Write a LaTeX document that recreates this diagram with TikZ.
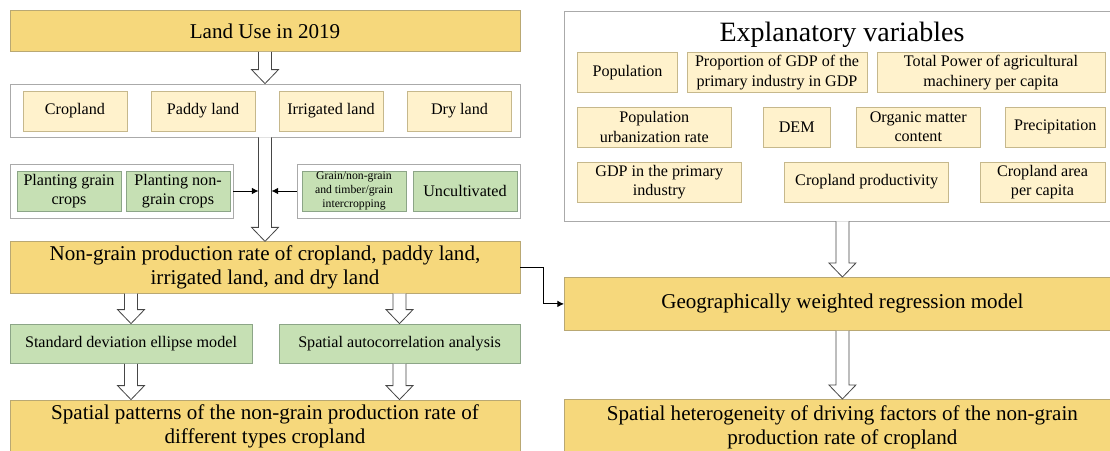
\documentclass[tikz,border=0pt]{standalone}
\usepackage{fontspec}
\setmainfont{Liberation Serif}
\usetikzlibrary{calc,arrows.meta}
\definecolor{gold}{RGB}{246,216,124}
\definecolor{goldline}{RGB}{185,168,115}
\definecolor{lyel}{RGB}{255,242,204}
\definecolor{lyelline}{RGB}{198,184,140}
\definecolor{lgreen}{RGB}{198,224,180}
\definecolor{lgreenline}{RGB}{140,165,135}
\definecolor{framec}{RGB}{170,170,170}
\definecolor{arrowline}{RGB}{70,70,70}
\tikzset{
 wh/.style 2 args={minimum width=#1*0.75pt, minimum height=#2*0.75pt},
 base/.style={draw, line width=0.6pt, inner sep=0pt, align=center, text=black},
 goldbox/.style={base, fill=gold, draw=goldline},
 ybox/.style={base, fill=lyel, draw=lyelline},
 gbox/.style={base, fill=lgreen, draw=lgreenline},
 container/.style={base, fill=white, draw=framec},
 fbig/.style={font=\fontsize{15.8}{17.6}\selectfont},
 fsmall/.style={font=\fontsize{12.1}{14.6}\selectfont},
 ftiny/.style={font=\fontsize{8.8}{10.5}\selectfont},
 ftitle/.style={font=\fontsize{21}{24}\selectfont},
 hollow/.style={draw=arrowline, fill=white, line width=0.6pt, line join=miter},
 link/.style={draw=black, line width=0.7pt, -{Latex[length=5pt,width=5pt]}},
}
\newcommand\hollowarrow[2]{%
 \path[hollow] let \p1=#1, \p2=#2 in
 (\x1-4.875pt,\y1) -- (\x1-4.875pt,\y2+10.5pt) -- (\x1-10.125pt,\y2+10.5pt) --
 (\x1,\y2) -- (\x1+10.125pt,\y2+10.5pt) -- (\x1+4.875pt,\y2+10.5pt) -- (\x1+4.875pt,\y1);}
\begin{document}
\begin{tikzpicture}[x=0.75pt,y=-0.75pt]
\useasboundingbox (0,0) rectangle (1110,450);
\clip (0,0) rectangle (1110,450);

% ---------- left column ----------
\node[goldbox,fbig,wh={510}{41}] (land) at (265,31) {Land Use in 2019};

\node[container,wh={510}{53}] (four) at (265,110.5) {};
\node[ybox,fsmall,wh={104}{40}] (crop) at (75,111) {Cropland};
\node[ybox,fsmall,wh={104}{40}] (paddy) at (203,111) {Paddy land};
\node[ybox,fsmall,wh={104}{40}] (irr) at (331,111) {Irrigated land};
\node[ybox,fsmall,wh={104}{40}] (dry) at (459.5,111) {Dry land};

\node[container,wh={223}{54}] (lgroup) at (121.5,191) {};
\node[gbox,fsmall,wh={104}{40}] (pg) at (69,191) {Planting grain\\crops};
\node[gbox,fsmall,wh={104}{40}] (png) at (178,191) {Planting non-\\grain crops};

\node[container,wh={223}{54}] (rgroup) at (408.5,191) {};
\node[gbox,ftiny,wh={104}{40}] (inter) at (354,191) {Grain/non-grain\\and timber/grain\\intercropping};
\node[gbox,fsmall,wh={104}{40}] (unc) at (465,191) {Uncultivated};

\node[goldbox,fbig,wh={510}{51.5}] (ng) at (265,267.5) {Non-grain production rate of cropland, paddy land,\\irrigated land, and dry land};

\node[gbox,fsmall,wh={242}{39.5}] (sd) at (131,343.75) {Standard deviation ellipse model};
\node[gbox,fsmall,wh={241}{39.5}] (sa) at (399.5,343.75) {Spatial autocorrelation analysis};

\node[goldbox,fbig,wh={510}{53}] (sp) at (265,426.5) {Spatial patterns of the non-grain production rate of\\different types cropland};

% ---------- right column ----------
\node[container,wh={556}{210},anchor=north west] (expl) at (564,10.5) {};
\node[ftitle] (title) at (842,35) {Explanatory variables};

\node[ybox,fsmall,wh={100}{40}] (pop) at (627.5,72.5) {Population};
\node[ybox,fsmall,wh={180}{40}] (prop) at (777,72.5) {Proportion of GDP of the\\primary industry in GDP};
\node[ybox,fsmall,wh={228}{40}] (tp) at (991,72.5) {Total Power of agricultural\\machinery per capita};

\node[ybox,fsmall,wh={153.5}{40}] (pu) at (654.25,127) {Population\\urbanization rate};
\node[ybox,fsmall,wh={66.5}{40}] (dem) at (796.75,127) {DEM};
\node[ybox,fsmall,wh={123.5}{40}] (om) at (918.25,127) {Organic matter\\content};
\node[ybox,fsmall,wh={99.4}{40}] (pre) at (1055.3,127) {Precipitation};

\node[ybox,fsmall,wh={163.5}{40}] (gdp) at (659.25,182) {GDP in the primary\\industry};
\node[ybox,fsmall,wh={164.2}{40}] (cp) at (866.7,182) {Cropland productivity};
\node[ybox,fsmall,wh={125}{40}] (ca) at (1042.5,182) {Cropland area\\per capita};

\node[goldbox,fbig,wh={556}{53},anchor=north west] (gwr) at (564,277) {Geographically weighted regression model};

\node[goldbox,fbig,wh={556}{56},anchor=north west] (het) at (564,399) {Spatial heterogeneity of driving factors of the non-grain\\production rate of cropland};

% ---------- hollow arrows ----------
\hollowarrow{(land.south)}{(four.north)}
\hollowarrow{(four.south)}{(ng.north)}
\hollowarrow{(ng.south -| sd.north)}{(sd.north)}
\hollowarrow{(ng.south -| sa.north)}{(sa.north)}
\hollowarrow{(sd.south)}{(sp.north -| sd.south)}
\hollowarrow{(sa.south)}{(sp.north -| sa.south)}
\hollowarrow{(expl.south)}{(gwr.north)}
\hollowarrow{(gwr.south)}{(het.north)}

% ---------- black connectors ----------
\coordinate (shaftL) at ($(four.south)+(-4.875pt,0)$);
\coordinate (shaftR) at ($(four.south)+(4.875pt,0)$);
\draw[link] (lgroup.east) -- (lgroup.east -| shaftL);
\draw[link] (rgroup.west) -- (rgroup.west -| shaftR);
\draw[link] (ng.east) -- ++(17.25pt,0) |- (gwr.west);
\end{tikzpicture}
\end{document}
